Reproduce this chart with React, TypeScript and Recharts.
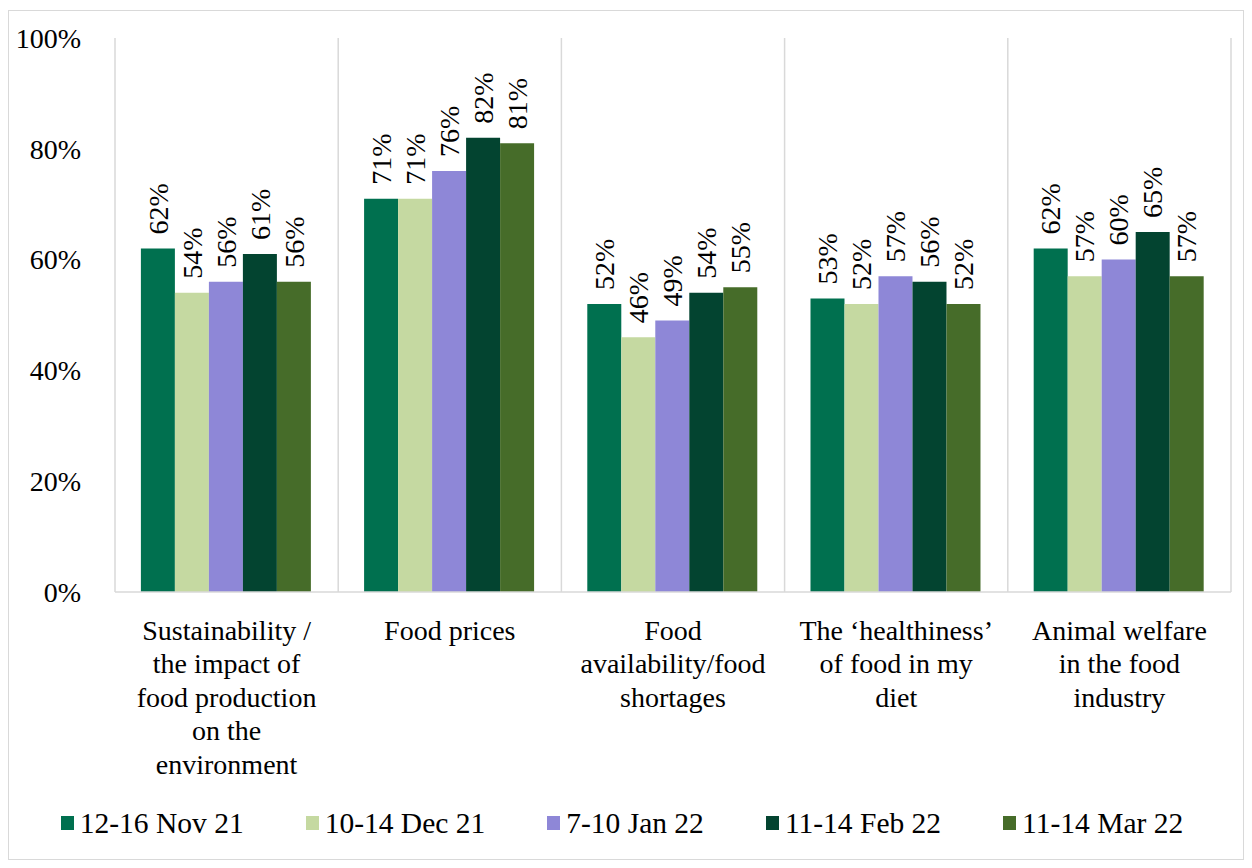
import { BarChart, Bar, XAxis, YAxis, CartesianGrid, Legend, LabelList } from 'recharts';

const categories = [
  'Sustainability /\nthe impact of\nfood production\non the\nenvironment',
  'Food prices',
  'Food\navailability/food\nshortages',
  'The \u2018healthiness\u2019\nof food in my\ndiet',
  'Animal welfare\nin the food\nindustry',
];

const nov21 = [62, 71, 52, 53, 62];
const dec21 = [54, 71, 46, 52, 57];
const jan22 = [56, 76, 49, 57, 60];
const feb22 = [61, 82, 54, 56, 65];
const mar22 = [56, 81, 55, 52, 57];

const seriesNames = ['12-16 Nov 21', '10-14 Dec 21', '7-10 Jan 22', '11-14 Feb 22', '11-14 Mar 22'];
const seriesValues = [nov21, dec21, jan22, feb22, mar22];
const COLORS = ['#00704F', '#C5D9A1', '#8E87D7', '#034430', '#466C29'];

const yTicks = [0, 20, 40, 60, 80, 100];

const FONT = "'Liberation Serif', 'Times New Roman', serif";

const data = categories.map((name, i) => {
  const row: Record<string, string | number> = { name };
  seriesNames.forEach((s, j) => {
    row[s] = seriesValues[j][i];
  });
  return row;
});

// 카테고리 경계마다 세로 구분선
const categoryBoundaries = ({ offset }: any) => {
  const step = offset.width / categories.length;
  return Array.from({ length: categories.length + 1 }, (_, i) => offset.left + i * step);
};

// 여러 줄 카테고리 라벨
function CategoryTick(props: any) {
  const { x, y, payload } = props;
  const lines = String(payload.value).split('\n');
  return (
    <text x={x} y={y + 36} textAnchor="middle" style={{ fontFamily: FONT, fontSize: 28 }} fill="#000">
      {lines.map((line, i) => (
        <tspan key={i} x={x} dy={i === 0 ? '0.35em' : 33.5}>
          {line}
        </tspan>
      ))}
    </text>
  );
}

function YTick(props: any) {
  const { x, y, payload } = props;
  return (
    <text x={x} y={y} textAnchor="end" dy="0.35em" style={{ fontFamily: FONT, fontSize: 28 }} fill="#000">
      {`${payload.value}%`}
    </text>
  );
}

// 막대 위 세로 라벨
function VerticalLabel(props: any) {
  const { x, y, width, value } = props;
  const cx = x + width / 2;
  const ty = y - 14;
  return (
    <text
      x={cx}
      y={ty}
      transform={`rotate(-90 ${cx} ${ty})`}
      textAnchor="start"
      dy="0.35em"
      style={{ fontFamily: FONT, fontSize: 28 }}
      fill="#000"
    >
      {`${value}%`}
    </text>
  );
}

function LegendContent() {
  return (
    <div
      style={{
        display: 'flex',
        justifyContent: 'center',
        alignItems: 'center',
        gap: 62,
        height: 40,
        fontFamily: FONT,
        fontSize: 29.5,
        paddingLeft: 4,
        color: '#000',
      }}
    >
      {seriesNames.map((s, i) => (
        <div key={s} style={{ display: 'flex', alignItems: 'center' }}>
          <span style={{ width: 13, height: 14, background: COLORS[i], display: 'inline-block', marginRight: 6 }} />
          <span>{s}</span>
        </div>
      ))}
    </div>
  );
}

export default function App() {
  return (
    <div style={{ width: 1236, height: 850, border: '1px solid #d9d9d9', marginTop: 2, boxSizing: 'border-box', background: '#fff' }}>
      <BarChart
        width={1234}
        height={848}
        data={data}
        margin={{ top: 27, right: 12, bottom: 16, left: 0 }}
        barCategoryGap="11.6%"
        barGap={0}
      >
        <CartesianGrid
          horizontal={false}
          verticalCoordinatesGenerator={categoryBoundaries}
          stroke="#d9d9d9"
          strokeWidth={1.5}
        />
        <XAxis
          dataKey="name"
          interval={0}
          tickLine={false}
          tickSize={0}
          tick={<CategoryTick />}
          axisLine={{ stroke: '#d9d9d9', strokeWidth: 1.5 }}
          height={211}
        />
        <YAxis
          domain={[0, 100]}
          ticks={yTicks}
          axisLine={false}
          tickLine={false}
          tickSize={0}
          tickMargin={34}
          width={106}
          tick={<YTick />}
        />
        <Legend verticalAlign="bottom" content={<LegendContent />} />
        {seriesNames.map((s, i) => (
          <Bar key={s} dataKey={s} fill={COLORS[i]} isAnimationActive={false}>
            <LabelList dataKey={s} content={<VerticalLabel />} />
          </Bar>
        ))}
      </BarChart>
    </div>
  );
}
